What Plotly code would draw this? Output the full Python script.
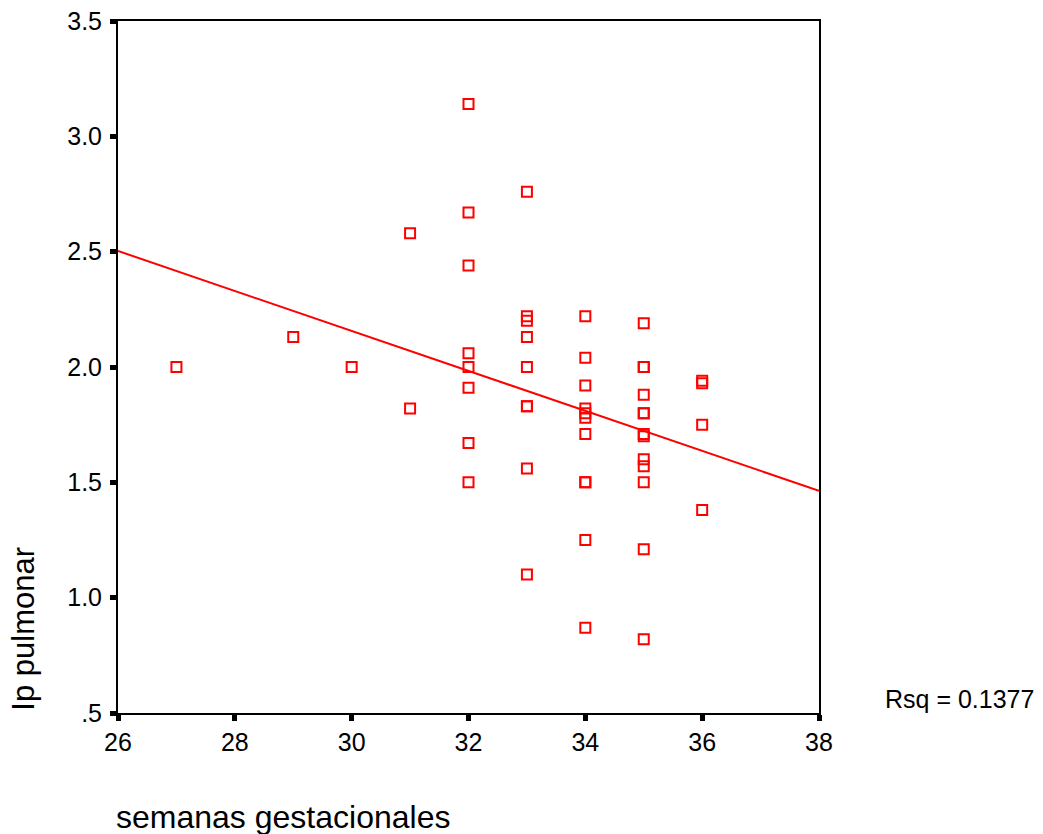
import numpy as np
import plotly.graph_objects as go

# Data
weeks = [27,
         29,
         30,
         31, 31,
         32, 32, 32, 32, 32, 32, 32, 32,
         33, 33, 33, 33, 33, 33, 33, 33, 33,
         34, 34, 34, 34, 34, 34, 34, 34, 34, 34, 34,
         35, 35, 35, 35, 35, 35, 35, 35, 35, 35, 35, 35, 35,
         36, 36, 36, 36]
ip_pulmonar = [2.00,
               2.13,
               2.00,
               2.58, 1.82,
               3.14, 2.67, 2.44, 2.06, 2.00, 1.91, 1.67, 1.50,
               2.76, 2.22, 2.20, 2.13, 2.00, 1.83, 1.83, 1.56, 1.10,
               2.22, 2.04, 1.92, 1.82, 1.80, 1.78, 1.71, 1.50, 1.50, 1.25, 0.87,
               2.19, 2.00, 2.00, 1.88, 1.80, 1.80, 1.71, 1.70, 1.60, 1.57, 1.50, 1.21, 0.82,
               1.94, 1.93, 1.75, 1.38]

x_ticks = [26, 28, 30, 32, 34, 36, 38]
y_ticks = [0.5, 1.0, 1.5, 2.0, 2.5, 3.0, 3.5]
y_tick_labels = [".5", "1.0", "1.5", "2.0", "2.5", "3.0", "3.5"]
x_range = [26, 38]
y_range = [0.5, 3.5]
rsq_label = "Rsq = 0.1377"

slope, intercept = np.polyfit(weeks, ip_pulmonar, 1)
fit_x = np.array(x_range, dtype=float)
fit_y = intercept + slope * fit_x

RED = "#ff0000"
FONT = "Liberation Sans, Arial, sans-serif"

fig = go.Figure()
fig.add_trace(go.Scatter(
    x=fit_x, y=fit_y, mode="lines",
    line=dict(color=RED, width=2), hoverinfo="skip", showlegend=False))
fig.add_trace(go.Scatter(
    x=weeks, y=ip_pulmonar, mode="markers",
    marker=dict(symbol="square-open", size=10, color=RED, line=dict(color=RED, width=2)),
    showlegend=False))

axis_common = dict(
    showgrid=False, zeroline=False, automargin=False,
    showline=True, linecolor="black", linewidth=2, mirror=True,
    ticks="outside", ticklen=6, tickwidth=5, tickcolor="black",
    tickfont=dict(family=FONT, size=25, color="black"),
)

fig.update_xaxes(range=x_range, tickmode="array", tickvals=x_ticks,
                 ticktext=[str(v) for v in x_ticks], **axis_common)
fig.update_yaxes(range=y_range, tickmode="array", tickvals=y_ticks,
                 ticktext=y_tick_labels, ticklabelstandoff=3, **axis_common)

fig.add_annotation(text="semanas gestacionales", xref="paper", yref="paper",
                   x=-0.006, y=-0.151, xanchor="left", yanchor="middle",
                   showarrow=False, font=dict(family=FONT, size=32, color="black"))
fig.add_annotation(text="Ip pulmonar", xref="paper", yref="paper",
                   x=-0.136, y=0.0, xanchor="center", yanchor="bottom", textangle=-90,
                   showarrow=False, font=dict(family=FONT, size=31, color="black"))
fig.add_annotation(text=rsq_label, xref="paper", yref="paper",
                   x=1.092, y=0.02, xanchor="left", yanchor="middle",
                   showarrow=False, font=dict(family=FONT, size=25, color="black"))

fig.update_layout(
    width=1043, height=834,
    margin=dict(l=118, r=224, t=21, b=121, autoexpand=False),
    paper_bgcolor="white", plot_bgcolor="white",
    font=dict(family=FONT, color="black"),
    showlegend=False,
)

fig.write_html("out.html", config={"displayModeBar": False},
               post_script="document.body.style.margin='0';")
